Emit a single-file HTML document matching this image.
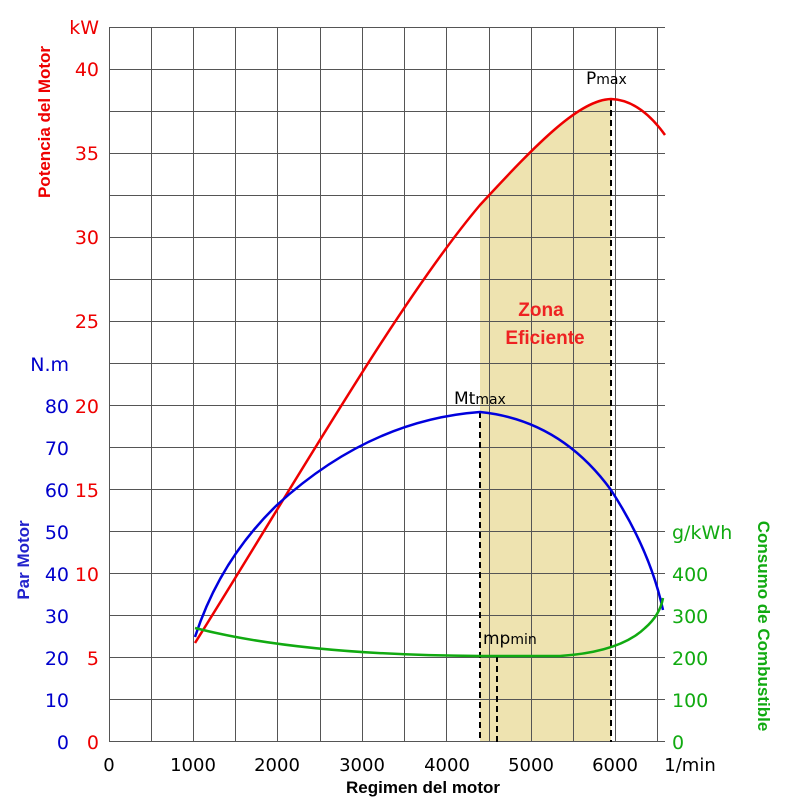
<!DOCTYPE html>
<html><head><meta charset="utf-8"><style>
body{margin:0;background:#fff}
svg{display:block;font-family:"DejaVu Sans","Liberation Sans",sans-serif}
</style></head><body>
<svg width="800" height="800" viewBox="0 0 800 800">
<defs><clipPath id="c"><path d="M195 643 C300 475 400 300 480 205 C540 140 580 100 611 99 Q640 100 665 135 L665 742 L195 742Z"/></clipPath></defs>
<rect x="480" y="90" width="131" height="652" fill="#eee3b0" clip-path="url(#c)"/>
<g stroke="#555" stroke-width="1">
<path d="M109.5 27V742M151.5 27V742M193.5 27V742M235.5 27V742M277.5 27V742M320.5 27V742M362.5 27V742M404.5 27V742M446.5 27V742M489.5 27V742M531.5 27V742M573.5 27V742M615.5 27V742M657.5 27V742"/>
<path d="M109 27.5H665M109 69.5H665M109 111.5H665M109 153.5H665M109 195.5H665M109 237.5H665M109 279.5H665M109 321.5H665M109 363.5H665M109 405.5H665M109 447.5H665M109 489.5H665M109 531.5H665M109 573.5H665M109 615.5H665M109 657.5H665M109 699.5H665M109 741.5H665"/>
</g>
<g stroke="#000" stroke-width="2" stroke-dasharray="6,4">
<path d="M480 412V742M497 656V742M611 100V742"/>
</g>
<path d="M195 643 C300 475 400 300 480 205 C540 140 580 100 611 99 Q640 100 665 135" fill="none" stroke="#e00" stroke-width="2.5"/>
<path d="M195 637 Q220 560 277 505 Q370 420 480 412 Q560 420 611 490 Q650 550 663 610" fill="none" stroke="#00d" stroke-width="2.5"/>
<path d="M195 628 Q300 655 480 656 L560 656 Q620 652 645 628 Q660 615 663 598" fill="none" stroke="#1a1" stroke-width="2.5"/>
<g fill="#e00" font-size="19" text-anchor="end">
<text x="99" y="34">kW</text><text x="99" y="76">40</text><text x="99" y="160">35</text><text x="99" y="244">30</text><text x="99" y="328">25</text><text x="99" y="413">20</text><text x="99" y="497">15</text><text x="99" y="581">10</text><text x="99" y="665">5</text><text x="99" y="749">0</text>
</g>
<g fill="#00c" font-size="19" text-anchor="end">
<text x="69" y="371">N.m</text><text x="69" y="413">80</text><text x="69" y="455">70</text><text x="69" y="497">60</text><text x="69" y="539">50</text><text x="69" y="581">40</text><text x="69" y="623">30</text><text x="69" y="665">20</text><text x="69" y="707">10</text><text x="69" y="749">0</text>
</g>
<g fill="#1a1" font-size="19">
<text x="672" y="539">g/kWh</text><text x="672" y="581">400</text><text x="672" y="623">300</text><text x="672" y="665">200</text><text x="672" y="707">100</text><text x="672" y="749">0</text>
</g>
<g fill="#000" font-size="18" text-anchor="middle">
<text x="109" y="771">0</text><text x="193" y="771">1000</text><text x="277" y="771">2000</text><text x="362" y="771">3000</text><text x="447" y="771">4000</text><text x="531" y="771">5000</text><text x="615" y="771">6000</text><text x="690" y="771">1/min</text>
</g>
<text x="423" y="793" font-size="17" font-weight="bold" text-anchor="middle" font-family="Liberation Sans,sans-serif">Regimen del motor</text>
<text transform="translate(50,122) rotate(-90)" fill="#e00" font-size="17" font-weight="bold" text-anchor="middle" font-family="Liberation Sans,sans-serif">Potencia del Motor</text>
<text transform="translate(29,560) rotate(-90)" fill="#22c" font-size="17" font-weight="bold" text-anchor="middle" font-family="Liberation Sans,sans-serif">Par Motor</text>
<text transform="translate(758,626) rotate(90)" fill="#1a1" font-size="17" font-weight="bold" text-anchor="middle" font-family="Liberation Sans,sans-serif">Consumo de Combustible</text>
<g fill="#e22" font-size="19" font-weight="bold" text-anchor="middle" font-family="Liberation Sans,sans-serif">
<text x="541" y="316">Zona</text><text x="545" y="344">Eficiente</text>
</g>
<g fill="#000" font-size="17">
<text x="586" y="84">P<tspan font-size="14">max</tspan></text>
<text x="454" y="404">Mt<tspan font-size="14">max</tspan></text>
<text x="483" y="644">mp<tspan font-size="14">min</tspan></text>
</g>
</svg>
</body></html>
